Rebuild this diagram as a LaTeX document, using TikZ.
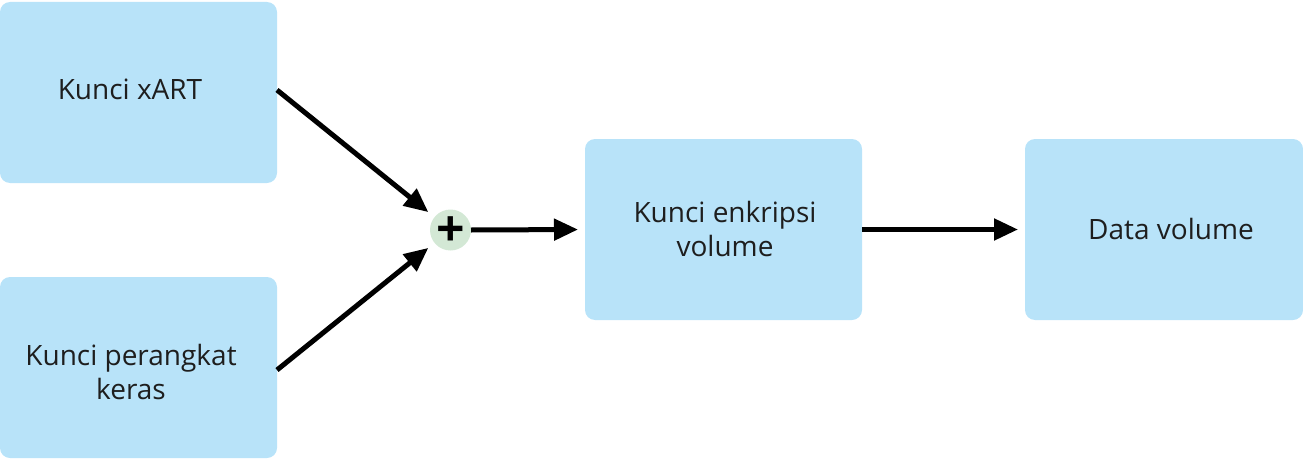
\documentclass[tikz,border=0pt]{standalone}
\usepackage{fontspec}
\setmainfont{Open Sans}
\usetikzlibrary{arrows.meta}
\definecolor{boxblue}{RGB}{184,227,249}
\definecolor{plusgreen}{RGB}{211,232,213}
\definecolor{txt}{RGB}{30,30,30}
\tikzset{
  box/.style={draw=none, fill=boxblue, rounded corners=10pt, inner sep=0pt, outer sep=0pt},
  lbl/.style={font=\fontsize{28}{34}\selectfont, text=txt, align=center, inner sep=0pt},
  arr/.style={line width=5pt, -{Triangle[length=24pt,width=21pt]}},
  plusnode/.style={circle, fill=plusgreen, minimum size=41pt, inner sep=0pt, outer sep=0pt},
  plussign/.style={inner sep=0pt, font=\fontsize{50}{50}\selectfont\bfseries, text=black}
}
\begin{document}
\begin{tikzpicture}[x=1pt,y=-1pt]
\useasboundingbox (0,0) rectangle (1303,460);
\node[box, minimum width=277pt, minimum height=181pt] (b1) at (138.5,92.5) {};
\node[box, minimum width=277pt, minimum height=181pt] (b2) at (138.5,367.5) {};
\node[box, minimum width=277pt, minimum height=181pt] (b3) at (723.5,229.5) {};
\node[box, minimum width=278pt, minimum height=181pt] (b4) at (1164,229.5) {};
\node[lbl, anchor=base] (t1) at (130,99) {Kunci xART};
\node[lbl] (t2) at (131,372) {Kunci perangkat\\keras};
\node[lbl] (t3) at (725,229) {Kunci enkripsi\\volume};
\node[lbl, anchor=base] (t4) at (1171,239) {Data volume};
\node[plusnode] (plus) at (450.5,230) {};
\node[plussign] (ps) at ([yshift=-2pt]plus.center) {+};
\draw[arr, shorten >=8pt] ([yshift=2.5pt]b1.east) -- (plus);
\draw[arr, shorten >=8pt] ([yshift=-2.5pt]b2.east) -- (plus);
\draw[arr, shorten >=7pt] (plus.east) -- (b3.west);
\draw[arr, shorten >=7pt] (b3.east) -- (b4.west);
\end{tikzpicture}
\end{document}
